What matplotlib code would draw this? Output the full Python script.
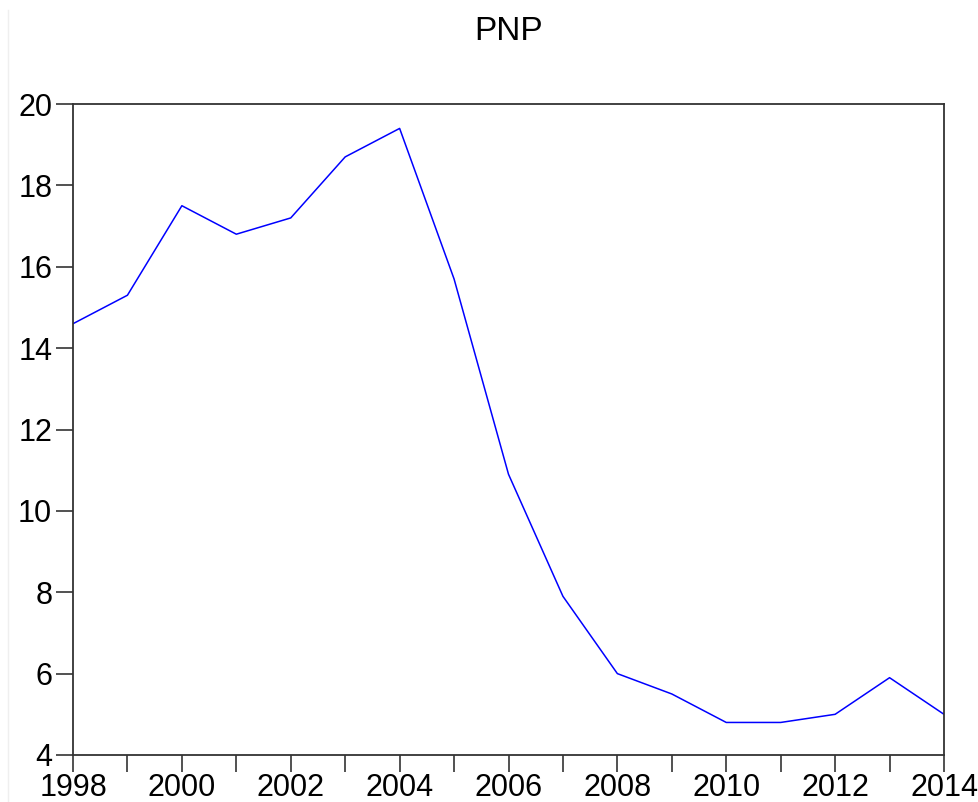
import matplotlib

matplotlib.use("Agg")
import matplotlib.pyplot as plt
from matplotlib.lines import Line2D
from matplotlib.ticker import MultipleLocator

years = list(range(1998, 2015))
pnp = [14.6, 15.3, 17.5, 16.8, 17.2, 18.7, 19.4, 15.7, 10.9, 7.9,
       6.0, 5.5, 4.8, 4.8, 5.0, 5.9, 5.0]

plt.rcParams["font.family"] = ["Liberation Sans", "DejaVu Sans"]

fig = plt.figure(figsize=(9.79, 8.02), dpi=100)
ax = fig.add_axes([73 / 979, 1 - 755 / 802, (944 - 73) / 979, (755 - 104) / 802])

# faint frame edge on the left of the exported window
fig.add_artist(Line2D([8 / 979, 8 / 979], [0, 1 - 10 / 802],
                      transform=fig.transFigure, color="#efefef", lw=1))

ax.plot(years, pnp, color="#0000ff", lw=1.1)

ax.set_xlim(1998, 2014)
ax.set_ylim(4, 20)
ax.xaxis.set_major_locator(MultipleLocator(2))
ax.xaxis.set_minor_locator(MultipleLocator(1))
ax.yaxis.set_major_locator(MultipleLocator(2))

for side in ax.spines.values():
    side.set_color("#333333")
    side.set_linewidth(1.3)

ax.tick_params(axis="both", which="both", direction="out", length=12,
               width=1.2, color="#333333", labelsize=22, pad=3)
ax.tick_params(axis="x", which="major", pad=1)
ax.tick_params(top=False, right=False)

ax.set_title("PNP", fontsize=24, pad=46)

fig.savefig("out.png", dpi=100)
